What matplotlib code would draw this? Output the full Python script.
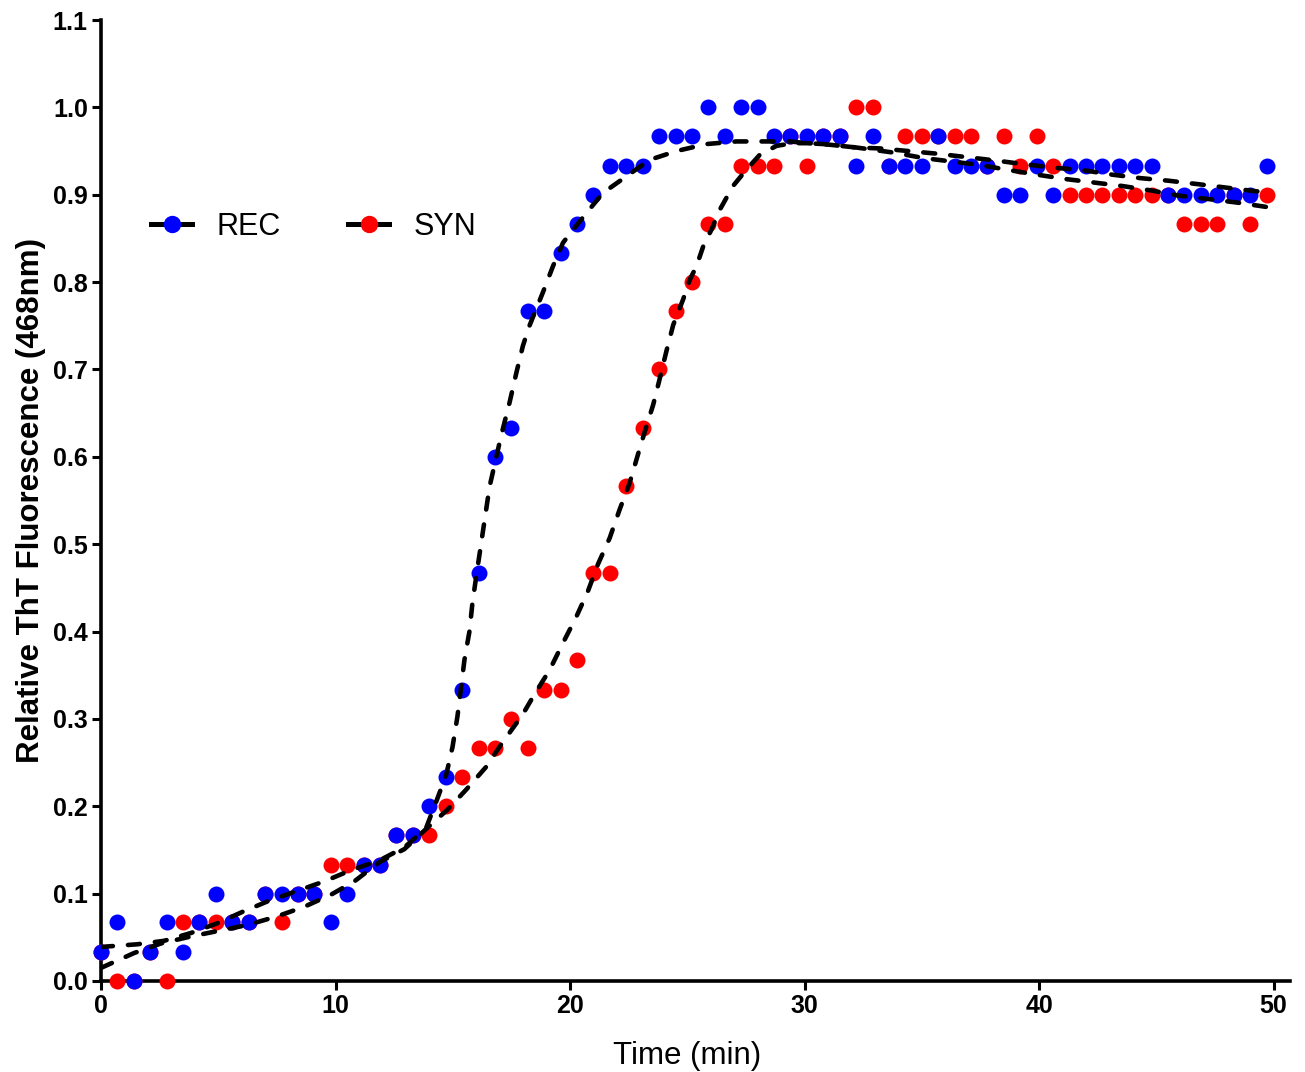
import matplotlib
matplotlib.use('Agg')
import matplotlib.pyplot as plt
from matplotlib.lines import Line2D

plt.rcParams['font.family'] = ['Liberation Sans', 'DejaVu Sans']

# sampling times (min)
time_min = [0.0, 0.7, 1.4, 2.1, 2.8, 3.5, 4.2, 4.9, 5.6, 6.3,
            7.0, 7.7, 8.4, 9.1, 9.8, 10.5, 11.2, 11.9, 12.6, 13.3,
            14.0, 14.7, 15.4, 16.1, 16.8, 17.5, 18.2, 18.9, 19.6, 20.3,
            21.0, 21.7, 22.4, 23.1, 23.8, 24.5, 25.2, 25.9, 26.6, 27.3,
            28.0, 28.7, 29.4, 30.1, 30.8, 31.5, 32.2, 32.9, 33.6, 34.3,
            35.0, 35.7, 36.4, 37.1, 37.8, 38.5, 39.2, 39.9, 40.6, 41.3,
            42.0, 42.7, 43.4, 44.1, 44.8, 45.5, 46.2, 46.9, 47.6, 48.3,
            49.0, 49.7]

# relative ThT fluorescence, REC
rec = [0.033, 0.067, 0.0, 0.033, 0.067, 0.033, 0.067, 0.1, 0.067, 0.067,
       0.1, 0.1, 0.1, 0.1, 0.067, 0.1, 0.133, 0.133, 0.167, 0.167,
       0.2, 0.233, 0.333, 0.467, 0.6, 0.633, 0.767, 0.767, 0.833, 0.867,
       0.9, 0.933, 0.933, 0.933, 0.967, 0.967, 0.967, 1.0, 0.967, 1.0,
       1.0, 0.967, 0.967, 0.967, 0.967, 0.967, 0.933, 0.967, 0.933, 0.933,
       0.933, 0.967, 0.933, 0.933, 0.933, 0.9, 0.9, 0.933, 0.9, 0.933,
       0.933, 0.933, 0.933, 0.933, 0.933, 0.9, 0.9, 0.9, 0.9, 0.9,
       0.9, 0.933]

# relative ThT fluorescence, SYN
syn = [0.033, 0.0, 0.0, 0.033, 0.0, 0.067, 0.067, 0.067, 0.067, 0.067,
       0.1, 0.067, 0.1, 0.1, 0.133, 0.133, 0.133, 0.133, 0.167, 0.167,
       0.167, 0.2, 0.233, 0.267, 0.267, 0.3, 0.267, 0.333, 0.333, 0.367,
       0.467, 0.467, 0.567, 0.633, 0.7, 0.767, 0.8, 0.867, 0.867, 0.933,
       0.933, 0.933, 0.967, 0.933, 0.967, 0.967, 1.0, 1.0, 0.933, 0.967,
       0.967, 0.967, 0.967, 0.967, 0.933, 0.967, 0.933, 0.967, 0.933, 0.9,
       0.9, 0.9, 0.9, 0.9, 0.9, 0.9, 0.867, 0.867, 0.867, 0.9,
       0.867, 0.9]

# fitted curves
rec_fit_t = [0.0, 1.54, 2.69, 3.84, 4.95, 6.02, 7.09, 8.24, 9.52, 10.67,
             11.87, 12.94, 13.86, 14.29, 14.72, 14.99, 15.2, 15.5, 15.71, 15.84,
             16.0, 16.57, 17.07, 17.42, 17.71, 17.99, 18.27, 18.84, 19.27, 19.7,
             20.13, 20.7, 21.4, 22.4, 23.4, 24.54, 25.82, 27.1, 28.38, 29.38,
             30.09, 30.8, 31.51, 32.22, 33.22, 34.43, 35.64, 36.92, 38.2, 39.34,
             40.62, 41.9, 43.11, 44.32, 45.53, 46.81, 48.02, 49.23, 49.7]
rec_fit = [0.039, 0.042, 0.046, 0.055, 0.066, 0.079, 0.091, 0.102, 0.114, 0.127,
           0.138, 0.153, 0.175, 0.205, 0.236, 0.268, 0.303, 0.368, 0.400, 0.433,
           0.463, 0.566, 0.625, 0.662, 0.696, 0.727, 0.750, 0.788, 0.818, 0.845,
           0.860, 0.879, 0.902, 0.921, 0.940, 0.950, 0.958, 0.961, 0.961, 0.961,
           0.959, 0.958, 0.956, 0.954, 0.953, 0.950, 0.947, 0.943, 0.939, 0.935,
           0.931, 0.928, 0.923, 0.919, 0.916, 0.912, 0.908, 0.904, 0.903]

syn_fit_t = [0.0, 1.41, 2.56, 3.84, 5.12, 6.23, 7.51, 8.67, 9.82, 10.8,
             11.87, 12.94, 13.86, 14.77, 15.57, 16.42, 17.12, 17.98, 18.48, 19.13,
             19.7, 20.27, 20.76, 21.19, 21.69, 22.12, 22.54, 22.9, 23.19, 23.55,
             23.83, 24.11, 24.4, 24.82, 25.11, 25.39, 25.68, 26.03, 26.39, 26.95,
             27.53, 28.1, 28.81, 29.52, 30.09, 30.8, 31.51, 32.22, 33.86, 35.07,
             36.28, 37.49, 38.77, 39.91, 41.12, 42.33, 43.54, 44.75, 45.96, 47.24,
             48.45, 49.7]
syn_fit = [0.015, 0.032, 0.043, 0.051, 0.058, 0.064, 0.074, 0.085, 0.099, 0.114,
           0.136, 0.151, 0.174, 0.196, 0.219, 0.245, 0.273, 0.305, 0.328, 0.356,
           0.387, 0.417, 0.446, 0.477, 0.507, 0.540, 0.570, 0.603, 0.629, 0.660,
           0.690, 0.721, 0.751, 0.780, 0.803, 0.818, 0.841, 0.860, 0.883, 0.910,
           0.929, 0.946, 0.956, 0.959, 0.959, 0.958, 0.956, 0.954, 0.948, 0.942,
           0.938, 0.934, 0.928, 0.923, 0.918, 0.914, 0.910, 0.905, 0.899, 0.895,
           0.891, 0.886]

fig = plt.figure(figsize=(13.05, 10.72), dpi=100)
ax = fig.add_axes([101 / 1305, 1 - 981 / 1072, 1189 / 1305, 961 / 1072])

# SYN first so the blue points sit on top
ax.plot(time_min, syn, 'o', color='#ff0000', ms=11.5, mew=0, clip_on=False, zorder=3)
ax.plot(time_min, rec, 'o', color='#0000ff', ms=11.5, mew=0, clip_on=False, zorder=4)

dash = (0, (2.6, 3.3))
ax.plot(rec_fit_t, rec_fit, color='black', lw=3.3, ls=dash, dash_capstyle='round', zorder=5)
ax.plot(syn_fit_t, syn_fit, color='black', lw=3.3, ls=dash, dash_capstyle='round', zorder=5)

ax.set_xlim(0, 50.7)
ax.set_ylim(0, 1.1)
ax.set_xticks([0, 10, 20, 30, 40, 50])
ax.set_yticks([0.0, 0.1, 0.2, 0.3, 0.4, 0.5, 0.6, 0.7, 0.8, 0.9, 1.0, 1.1])
ax.set_yticklabels(['%.1f' % v for v in ax.get_yticks()])

for s in ['top', 'right']:
    ax.spines[s].set_visible(False)
for s in ['left', 'bottom']:
    ax.spines[s].set_linewidth(2.6)
ax.tick_params(direction='out', length=6.5, width=2.2, labelsize=18, pad=3)
for lab in ax.get_xticklabels() + ax.get_yticklabels():
    lab.set_fontweight('bold')

ax.set_xlabel('Time (min)', fontsize=22.5)
ax.xaxis.set_label_coords(25 / 50.7, -0.062)
ax.set_ylabel('Relative ThT Fluorescence (468nm)', fontsize=22.5, fontweight='bold', labelpad=5)

handles = [
    Line2D([], [], color='black', lw=3.6, marker='o', mfc='#0000ff', mec='#0000ff', ms=11.5, label='REC'),
    Line2D([], [], color='black', lw=3.6, marker='o', mfc='#ff0000', mec='#ff0000', ms=11.5, label='SYN'),
]
fig.legend(handles=handles, loc='center left', bbox_to_anchor=(151 / 1305, 1 - 227 / 1072),
           ncol=2, frameon=False, fontsize=22, handlelength=1.35, handletextpad=0.8,
           columnspacing=2.2, borderpad=0, borderaxespad=0)

fig.savefig('out.png', dpi=100)
